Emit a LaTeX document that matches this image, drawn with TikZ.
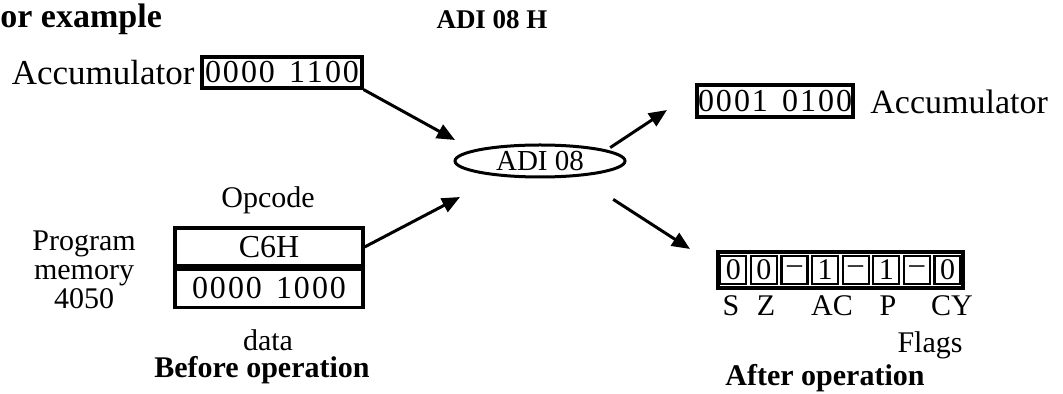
\documentclass[tikz,border=0pt]{standalone}
\usepackage{fontspec}
\setmainfont{Liberation Serif}
\usetikzlibrary{shapes.geometric,arrows.meta}
\begin{document}
\begin{tikzpicture}[x=0.5pt,y=-0.5pt,
  txt/.style={font=\fontsize{15}{17}\selectfont, inner sep=0pt},
  btxt/.style={font=\fontsize{15}{17}\selectfont\bfseries, inner sep=0pt},
  reg/.style={draw, line width=1.6pt, minimum width=94pt, minimum height=19pt, inner sep=0pt, font=\fontsize{16}{18}\selectfont},
  acc/.style={draw, line width=1.6pt, minimum width=80pt, minimum height=15.5pt, inner sep=0pt, font=\fontsize{16}{18}\selectfont},
  cell/.style={draw, line width=1.1pt, minimum width=13pt, minimum height=14pt, inner sep=0pt, font=\fontsize{15}{17}\selectfont},
  arr/.style={-{Triangle[length=9pt,width=7.5pt]}, line width=1.5pt},
]
\useasboundingbox (0,0) rectangle (1063,394);
\newcommand{\bits}[8]{#1\hspace{1pt}#2\hspace{1pt}#3\hspace{1pt}#4\hspace{7pt}#5\hspace{1pt}#6\hspace{1pt}#7\hspace{1pt}#8}

% titles
\node[anchor=base west, inner sep=0pt, font=\fontsize{17}{19}\selectfont\bfseries] (title) at (0,28) {or example};
\node[anchor=base, inner sep=0pt, font=\fontsize{13.5}{15}\selectfont\bfseries] (instr) at (492,29) {ADI 08 H};

% left side
\node[acc] (accL) at (282,72.5) {\bits 00001100};
\node[txt, anchor=east, font=\fontsize{17.5}{19}\selectfont] (accLlbl) at (195,73) {Accumulator};
\node[txt] (opclbl) at (268,200) {Opcode};
\node[reg] (opc) at (269,247) {C6H};
\node[reg, anchor=north] (dat) at (opc.south) {\bits 00001000};
\node[txt, align=center] (pm) at (84,270) {Program\\[-2.5pt]memory\\[-2.5pt]4050};
\node[txt] (datlbl) at (268,340) {data};
\node[btxt] (before) at (262,370) {Before operation};

% ellipse
\node[draw, ellipse, line width=1.5pt, minimum width=85pt, minimum height=16pt, inner sep=0pt,
      font=\fontsize{14.5}{16}\selectfont] (ell) at (540,161) {ADI 08};

% right side
\node[acc, minimum width=78pt, minimum height=16pt] (accR) at (775,101) {\bits 00010100};
\node[txt, anchor=west, font=\fontsize{17}{19}\selectfont] (accRlbl) at (870,102) {Accumulator};

\node[draw, line width=1.6pt, minimum width=122.5pt, minimum height=18pt, inner sep=0pt] (flags) at (840.5,270) {};
\foreach \v [count=\i] in {0,0,--,1,--,1,--,0} {
  \node[cell] (f\i) at ({718+30.6*(\i-0.5)},270) {\v};
}
\node[txt, anchor=base] (lS) at (731,316) {S};
\node[txt, anchor=base] (lZ) at (766,316) {Z};
\node[txt, anchor=base] (lAC) at (832,316) {AC};
\node[txt, anchor=base] (lP) at (888,316) {P};
\node[txt, anchor=base] (lCY) at (952,316) {CY};
\node[txt] (flagslbl) at (930,345) {Flags};
\node[btxt] (after) at (825,378) {After operation};

% arrows
\coordinate (t1) at (455,140);
\coordinate (t2) at (460,197);
\coordinate (t3) at (667,110);
\coordinate (t4) at (690,249);
\draw[arr] (accL.south east) -- (t1);
\draw[arr] (opc.east) -- (t2);
\draw[arr] ([shift={(9,-1)}]ell.north east) -- (t3);
\draw[arr] ([shift={(12,26)}]ell.south east) -- (t4);
\end{tikzpicture}
\end{document}
